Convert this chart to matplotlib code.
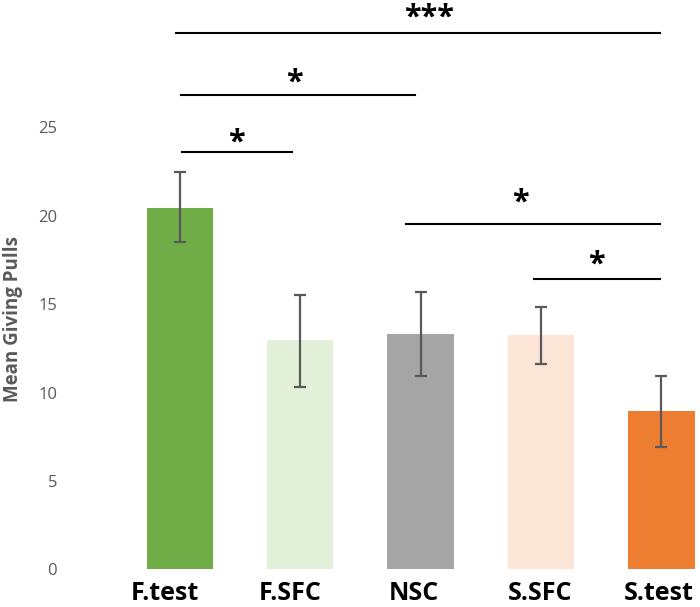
import numpy as np
import matplotlib.pyplot as plt

groups = ["F.test", "F.SFC", "NSC", "S.SFC", "S.test"]
means = [20.47, 12.96, 13.31, 13.24, 8.96]
err_low = [18.5, 10.32, 10.94, 11.6, 6.92]
err_high = [22.47, 15.53, 15.7, 14.82, 10.92]
colors = ["#70AD47", "#E2F0D9", "#A5A5A5", "#FBE5D6", "#ED7D31"]

# significance lines and their stars
sig_x0 = [-0.03, 0.01, 0.02, 1.88, 2.94]
sig_x1 = [3.99, 1.95, 0.93, 3.99, 3.99]
sig_y = [30.33, 26.82, 23.6, 19.53, 16.42]
sig_lab = ["***", "*", "*", "*", "*"]
sig_tx = [2.07, 0.95, 0.47, 2.83, 3.46]
sig_ty = [31.35, 27.67, 24.28, 20.9, 17.38]   # star centres

# labels in the original sit a bit left of their bars (in bar spacings)
lab_shift = [-0.12, -0.08, -0.06, -0.01, -0.02]

plt.rcParams['font.family'] = ['Open Sans', 'DejaVu Sans']

fig = plt.figure(figsize=(7, 6.07), dpi=100)
ax = fig.add_axes([0.157, 0.0618, 0.843, 0.938])

x = np.arange(len(groups))
m = np.array(means)
yerr = [m - np.array(err_low), np.array(err_high) - m]
ax.bar(x, means, width=0.55, color=colors)
ax.errorbar(x, means, yerr=yerr, fmt='none', ecolor='#595959',
            elinewidth=1.6, capsize=4, capthick=1.6)

for a, b, h, lab, tx, ty in zip(sig_x0, sig_x1, sig_y, sig_lab, sig_tx, sig_ty):
    ax.plot([a, b], [h, h], color='black', linewidth=1.5)
    ax.text(tx, ty - 0.6, lab, ha='center', va='baseline', fontsize=22,
            fontweight='bold', color='black', clip_on=False)

ax.set_xlim(-0.58, 4.32)
ax.set_ylim(0, 32.2)
ax.set_yticks([0, 5, 10, 15, 20, 25])
ax.set_xticks(x + np.array(lab_shift))
ax.set_xticklabels(groups, fontsize=18, fontweight='bold', color='black')
ax.tick_params(axis='y', labelsize=12, labelcolor='#595959', length=0, pad=38)
ax.tick_params(axis='x', length=0, pad=8)
ax.set_ylabel("Mean Giving Pulls", fontsize=13.5, fontweight='bold', color='#595959')
ax.yaxis.set_label_coords(-0.147, 0.44)
for s in ax.spines.values():
    s.set_visible(False)

plt.savefig("out.png")
